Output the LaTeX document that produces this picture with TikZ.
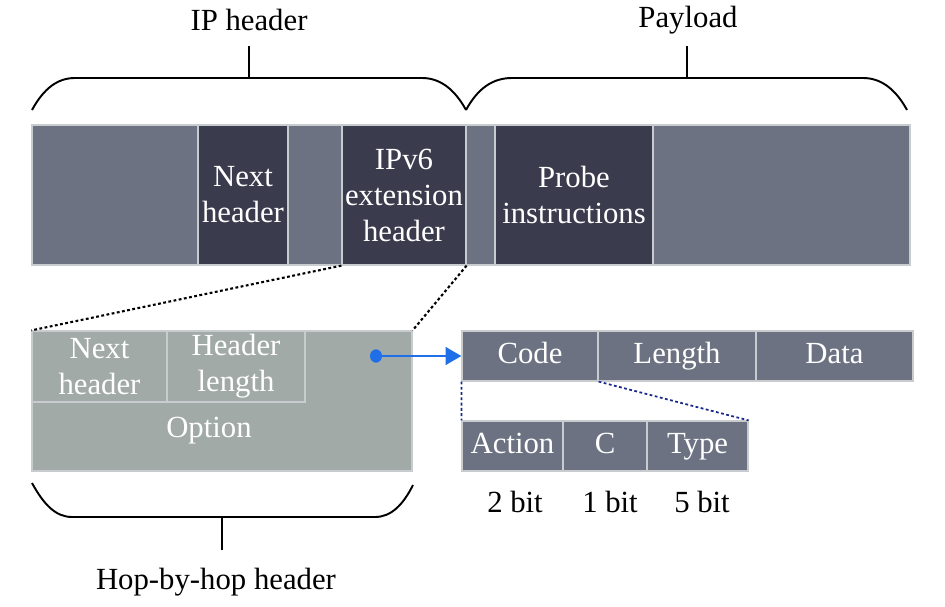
\documentclass[tikz,border=0pt]{standalone}
\usepackage{fontspec}
\setmainfont{Liberation Serif}
\usetikzlibrary{arrows.meta}

\definecolor{slate}{HTML}{6C7282}
\definecolor{darkslate}{HTML}{3A3B4D}
\definecolor{hbhgray}{HTML}{A2AAA8}
\definecolor{sepline}{HTML}{C8CCCF}
\definecolor{arrowblue}{HTML}{1F6FE8}
\definecolor{zoomnavy}{HTML}{1A2A8A}

\tikzset{
  field/.style={draw=sepline,line width=0.7pt,fill=slate,text=white,inner sep=0pt,align=center},
  darkfield/.style={field,fill=darkslate},
  hbhfield/.style={field,fill=hbhgray},
  barfield/.style={draw=sepline,line width=0.7pt,fill=slate,text=white,inner sep=0pt,
    text height=12pt,text depth=3.5pt,minimum height=1cm},
  brace/.style={line width=1.1pt,black},
  zoomline/.style={line width=1.2pt,dash pattern=on 1.6pt off 1.4pt}
}

\begin{document}
\begin{tikzpicture}[x=0.02cm,y=-0.02cm,font=\fontsize{17.5}{20.5}\selectfont]
\useasboundingbox (0,0) rectangle (945,607);

% packet
\node[field,minimum width=3.32cm,minimum height=2.8cm] (pre) at (115,195) {};
\node[darkfield,minimum width=1.8cm,minimum height=2.8cm] (nexthdr) at (243,195) {Next\\header};
\node[field,minimum width=1.08cm,minimum height=2.8cm] (mid) at (315,195) {};
\node[darkfield,minimum width=2.48cm,minimum height=2.8cm] (exthdr) at (404,195) {IPv6\\extension\\header};
\node[field,minimum width=0.58cm,minimum height=2.8cm] (gap) at (480.5,195) {};
\node[darkfield,minimum width=3.16cm,minimum height=2.8cm] (probe) at (574,195) {Probe\\instructions};
\node[field,minimum width=5.14cm,minimum height=2.8cm] (rest) at (781.5,195) {};

% braces on top
\node (iphdr) at (249,20) {IP header};
\node (payload) at (688,20) {Payload};
\coordinate (iptick) at (249,78);
\coordinate (iptop) at (249,46);
\coordinate (pltick) at (687,78);
\coordinate (pltop) at (687,46);
\draw[brace] (32,110) .. controls (44,88) and (58,78) .. (75,78) -- (422,78)
  .. controls (439,78) and (454,88) .. (466,110);
\draw[brace] (466,110) .. controls (478,88) and (493,78) .. (512,78) -- (863,78)
  .. controls (880,78) and (895,88) .. (907,110);
\draw[brace] (iptick) -- (iptop);
\draw[brace] (pltick) -- (pltop);

% hop-by-hop header
\node[hbhfield,minimum width=7.6cm,minimum height=2.8cm] (hbh) at (222,401) {};
\node[hbhfield,minimum width=2.7cm,minimum height=1.42cm] (hbhnext) at (99.5,366.5) {Next\\header};
\node[hbhfield,minimum width=2.76cm,minimum height=1.42cm] (hbhlen) at (236,366.5) {Header\\length};
\node[text=white] (option) at (209,431) {Option};
\draw[zoomline] (exthdr.south west) -- (hbh.north west);
\draw[zoomline] (exthdr.south east) -- (hbh.north east);

\node (hbhlabel) at (216,582) {Hop-by-hop header};
\coordinate (hbhtick) at (222,517);
\coordinate (hbhbot) at (222,550);
\draw[brace] (32,483) .. controls (44,505) and (56,517) .. (72,517) -- (375,517)
  .. controls (391,517) and (403,505) .. (413,485);
\draw[brace] (hbhtick) -- (hbhbot);

% option layout
\node[barfield,minimum width=2.72cm] (code) at (530,356) {Code};
\node[barfield,minimum width=3.16cm] (length) at (677,356) {Length};
\node[barfield,minimum width=3.14cm] (data) at (834.5,356) {Data};

\coordinate (dot) at (376,356);
\fill[arrowblue] (dot) ellipse (3.4pt and 3.8pt);
\draw[arrowblue,line width=1.6pt,-{Triangle[width=10pt,length=9pt]}] (dot) -- (code.west);

\node[barfield,minimum width=2.02cm] (action) at (512.5,446) {Action};
\node[barfield,minimum width=1.68cm] (cbit) at (605,446) {C};
\node[barfield,minimum width=2.02cm] (type) at (697.5,446) {Type};
\draw[zoomline,zoomnavy,line width=1pt] (code.south west) -- (action.north west);
\draw[zoomline,zoomnavy,line width=1pt] (code.south east) -- (type.north east);

\node (actbits) at (515,502) {2 bit};
\node (cbits) at (610,502) {1 bit};
\node (typebits) at (702,502) {5 bit};
\end{tikzpicture}
\end{document}
